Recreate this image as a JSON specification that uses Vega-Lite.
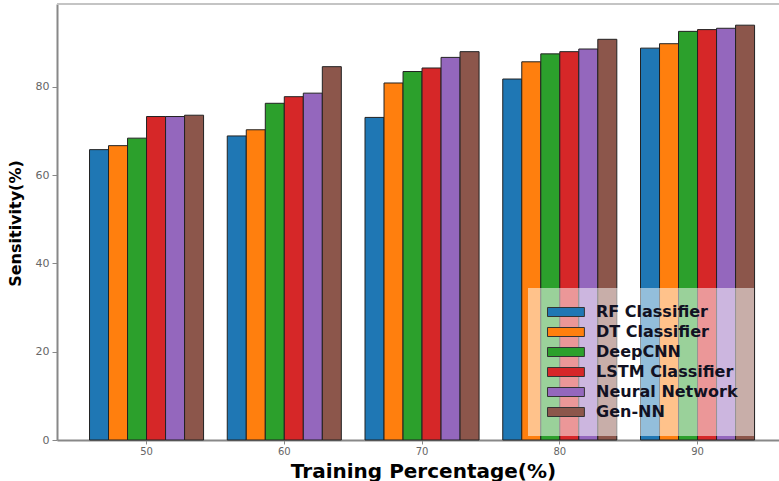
{
  "$schema": "https://vega.github.io/schema/vega-lite/v6.json",
  "autosize": {"type": "none"},
  "padding": {"left": 57, "top": 4, "right": 0, "bottom": 41},
  "width": 722,
  "height": 436,
  "config": {
    "view": {"stroke": null},
    "font": "DejaVu Sans"
  },
  "data": {
    "values": [
      {"tp": "50", "model": "RF Classifier", "sens": 65.8},
      {"tp": "50", "model": "DT Classifier", "sens": 66.7},
      {"tp": "50", "model": "DeepCNN", "sens": 68.4},
      {"tp": "50", "model": "LSTM Classifier", "sens": 73.3},
      {"tp": "50", "model": "Neural Network", "sens": 73.3},
      {"tp": "50", "model": "Gen-NN", "sens": 73.6},
      {"tp": "60", "model": "RF Classifier", "sens": 68.9},
      {"tp": "60", "model": "DT Classifier", "sens": 70.3},
      {"tp": "60", "model": "DeepCNN", "sens": 76.3},
      {"tp": "60", "model": "LSTM Classifier", "sens": 77.8},
      {"tp": "60", "model": "Neural Network", "sens": 78.6},
      {"tp": "60", "model": "Gen-NN", "sens": 84.6},
      {"tp": "70", "model": "RF Classifier", "sens": 73.1},
      {"tp": "70", "model": "DT Classifier", "sens": 80.9},
      {"tp": "70", "model": "DeepCNN", "sens": 83.5},
      {"tp": "70", "model": "LSTM Classifier", "sens": 84.3},
      {"tp": "70", "model": "Neural Network", "sens": 86.7},
      {"tp": "70", "model": "Gen-NN", "sens": 88.0},
      {"tp": "80", "model": "RF Classifier", "sens": 81.8},
      {"tp": "80", "model": "DT Classifier", "sens": 85.7},
      {"tp": "80", "model": "DeepCNN", "sens": 87.5},
      {"tp": "80", "model": "LSTM Classifier", "sens": 88.0},
      {"tp": "80", "model": "Neural Network", "sens": 88.6},
      {"tp": "80", "model": "Gen-NN", "sens": 90.8},
      {"tp": "90", "model": "RF Classifier", "sens": 88.8},
      {"tp": "90", "model": "DT Classifier", "sens": 89.8},
      {"tp": "90", "model": "DeepCNN", "sens": 92.6},
      {"tp": "90", "model": "LSTM Classifier", "sens": 93.0},
      {"tp": "90", "model": "Neural Network", "sens": 93.3},
      {"tp": "90", "model": "Gen-NN", "sens": 94.0}
    ]
  },
  "layer": [
    {
      "mark": {"type": "bar", "stroke": "#222222", "strokeWidth": 1},
      "encoding": {
        "x": {
          "field": "tp",
          "type": "nominal",
          "sort": ["50", "60", "70", "80", "90"],
          "scale": {"paddingInner": 0.172, "paddingOuter": 0.2067, "align": 0.571},
          "axis": {
            "title": "Training Percentage(%)",
            "titleFontSize": 20,
            "titleFontWeight": "bold",
            "titleColor": "#000000",
            "titleX": 366,
            "titleY": 31,
            "titleBaseline": "middle",
            "labelAngle": 0,
            "labelFontSize": 10,
            "labelColor": "#666666",
            "labelPadding": 2,
            "tickSize": 4,
            "tickColor": "#888888",
            "domainColor": "#888888",
            "domainWidth": 2
          }
        },
        "xOffset": {
          "field": "model",
          "type": "nominal",
          "sort": ["RF Classifier", "DT Classifier", "DeepCNN", "LSTM Classifier", "Neural Network", "Gen-NN"],
          "scale": {"paddingInner": 0, "paddingOuter": 0}
        },
        "y": {
          "field": "sens",
          "type": "quantitative",
          "scale": {"domain": [0, 98.8], "nice": false, "zero": true},
          "axis": {
            "title": "Sensitivity(%)",
            "titleFontSize": 16,
            "titleFontWeight": "bold",
            "titleColor": "#000000",
            "titleX": -42,
            "titleY": 219,
            "titleBaseline": "middle",
            "values": [0, 20, 40, 60, 80],
            "grid": false,
            "labelFontSize": 11,
            "labelColor": "#666666",
            "labelPadding": 3,
            "tickSize": 5,
            "tickColor": "#888888",
            "domainColor": "#888888",
            "domainWidth": 2
          }
        },
        "color": {
          "field": "model",
          "type": "nominal",
          "scale": {
            "domain": ["RF Classifier", "DT Classifier", "DeepCNN", "LSTM Classifier", "Neural Network", "Gen-NN"],
            "range": ["#1f77b4", "#ff7f0e", "#2ca02c", "#d62728", "#9467bd", "#8c564b"]
          },
          "legend": {
            "title": null,
            "orient": "none",
            "legendX": 471,
            "legendY": 284,
            "padding": 16,
            "fillColor": "rgba(255,255,255,0.52)",
            "symbolType": "M-1,-1H7.2V1H-1Z",
            "symbolSize": 81,
            "symbolStrokeColor": "#333333",
            "symbolStrokeWidth": 1,
            "symbolOpacity": 1,
            "labelOffset": 36,
            "labelFontSize": 16,
            "labelFontWeight": "bold",
            "labelColor": "#111122",
            "labelLimit": 400,
            "rowPadding": 4
          }
        }
      }
    },
    {
      "mark": {"type": "rule", "color": "#c4c4c4", "strokeWidth": 2},
      "encoding": {"y": {"datum": 98.8}}
    }
  ]
}
